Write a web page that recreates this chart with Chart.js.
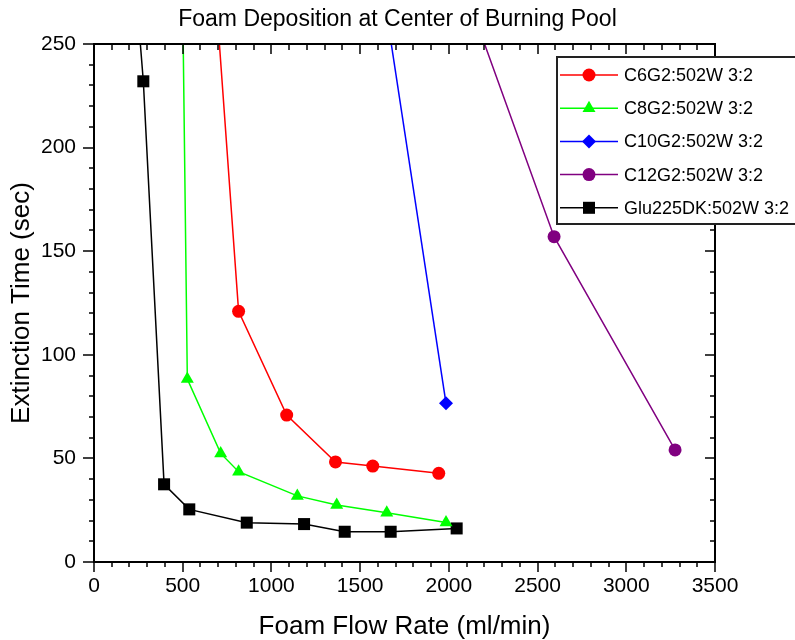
<!DOCTYPE html>
<html>
<head>
<meta charset="utf-8">
<script src="https://cdn.jsdelivr.net/npm/chart.js@4/dist/chart.umd.min.js"></script>
<style>
  html, body { margin: 0; padding: 0; background: #fff; }
  #wrap { width: 795px; height: 640px; }
</style>
</head>
<body>
<div id="wrap"><canvas id="chart" width="795" height="640"></canvas></div>
<script>
const FONT = "'Liberation Sans', Arial, sans-serif";

// data (first point of each curve sits above the 250 s clip)
const c6Flow  = [690, 815, 1086, 1361, 1571, 1943];
const c6Time  = [270, 121, 70.9, 48.3, 46.3, 42.8];
const c8Flow  = [500, 526, 714, 815, 1146, 1368, 1650, 1984];
const c8Time  = [270, 88.3, 52.4, 43.6, 31.9, 27.5, 23.8, 19.1];
const c10Flow = [1640, 1984];
const c10Time = [270, 76.6];
const c12Flow = [2117, 2593, 3275];
const c12Time = [270, 157.0, 54.1];
const gluFlow = [250, 278, 395, 537, 861, 1184, 1413, 1672, 2044];
const gluTime = [262, 232, 37.5, 25.4, 19.0, 18.3, 14.6, 14.6, 16.2];

const seriesLabels = ['C6G2:502W 3:2', 'C8G2:502W 3:2', 'C10G2:502W 3:2', 'C12G2:502W 3:2', 'Glu225DK:502W 3:2'];
const xTicks = [0, 500, 1000, 1500, 2000, 2500, 3000, 3500];
const yTicks = [0, 50, 100, 150, 200, 250];
const X_MINOR = 100, Y_MINOR = 10;

const STYLES = [
  { color: '#ff0000', point: 'circle',   r: 6.5 },
  { color: '#00ff00', point: 'triangle', r: 7.5 },
  { color: '#0000ff', point: 'rectRot',  r: 7   },
  { color: '#800080', point: 'circle',   r: 6.5 },
  { color: '#000000', point: 'rect',     r: 8.5 },
];

const pairs = [[c6Flow, c6Time], [c8Flow, c8Time], [c10Flow, c10Time], [c12Flow, c12Time], [gluFlow, gluTime]];
const yMax = yTicks[yTicks.length - 1];

const datasets = pairs.map(([fx, ty], i) => ({
  label: seriesLabels[i],
  data: fx.map((f, k) => ({ x: f, y: ty[k] })),
  borderColor: STYLES[i].color,
  backgroundColor: STYLES[i].color,
  borderWidth: 1.5,
  pointStyle: STYLES[i].point,
  pointRadius: c => (c.raw && c.raw.y > yMax ? 0 : STYLES[i].r),
  pointBorderWidth: 0,
  tension: 0,
  clip: 0,
}));

function line(ctx, x1, y1, x2, y2) {
  ctx.beginPath(); ctx.moveTo(x1, y1); ctx.lineTo(x2, y2); ctx.stroke();
}

// Origin style frame: outer ticks left/bottom, inner ticks top/right, minor ticks
const framePlugin = {
  id: 'frame',
  afterDraw(chart) {
    const { ctx, chartArea: a, scales: { x, y } } = chart;
    ctx.save();
    ctx.strokeStyle = '#000';
    ctx.lineWidth = 1.5;
    for (let v = x.min; v <= x.max; v += X_MINOR) {
      const px = Math.round(x.getPixelForValue(v));
      const major = xTicks.includes(v);
      line(ctx, px, a.bottom, px, a.bottom + (major ? 10 : 5));
      line(ctx, px, a.top, px, a.top + (major ? 10 : 6));
    }
    for (let v = y.min; v <= y.max; v += Y_MINOR) {
      const py = Math.round(y.getPixelForValue(v));
      const major = yTicks.includes(v);
      line(ctx, a.left, py, a.left - (major ? 11 : 5), py);
      line(ctx, a.right, py, a.right - (major ? 10 : 5), py);
    }
    ctx.lineWidth = 2;
    ctx.strokeRect(a.left, a.top, a.right - a.left, a.bottom - a.top);
    ctx.restore();
  }
};

// legend box overlapping the top-right corner, as in the original
const legendPlugin = {
  id: 'boxLegend',
  afterDraw(chart) {
    const ctx = chart.ctx;
    const bx = 557, by = 57, bh = 167, rowH = 33.2, row0 = 75;
    ctx.save();
    ctx.fillStyle = '#fff';
    ctx.fillRect(bx, by, 260, bh);
    ctx.strokeStyle = '#222';
    ctx.lineWidth = 2;
    ctx.strokeRect(bx, by, 260, bh);
    chart.data.datasets.forEach((ds, i) => {
      const yy = row0 + i * rowH;
      ctx.strokeStyle = ds.borderColor;
      ctx.fillStyle = ds.backgroundColor;
      ctx.lineWidth = 1.5;
      line(ctx, 560, yy, 618, yy);
      Chart.helpers.drawPoint(ctx, { pointStyle: ds.pointStyle, radius: STYLES[i].r, rotation: 0, borderWidth: 0 }, 589, yy);
      ctx.fillStyle = '#000';
      ctx.font = '18px ' + FONT;
      ctx.textBaseline = 'middle';
      ctx.textAlign = 'left';
      ctx.fillText(ds.label, 624, yy + 1);
    });
    ctx.restore();
  }
};

new Chart(document.getElementById('chart'), {
  type: 'line',
  data: { datasets },
  options: {
    responsive: false,
    animation: false,
    layout: { padding: 0 },
    plugins: {
      legend: { display: false },
      tooltip: { enabled: false },
      title: {
        display: true,
        text: 'Foam Deposition at Center of Burning Pool',
        color: '#000',
        font: { family: FONT, size: 23, weight: 'normal', lineHeight: 1.2 },
        padding: { top: 6, bottom: 10.4 },
      },
    },
    scales: {
      x: {
        type: 'linear', position: 'bottom', min: 0, max: 3500,
        afterBuildTicks: s => { s.ticks = xTicks.map(v => ({ value: v })); },
        ticks: { color: '#000', font: { family: FONT, size: 21 }, padding: 12, maxRotation: 0, autoSkip: false, callback: v => String(v) },
        grid: { display: false, drawTicks: false },
        border: { display: false },
        title: {
          display: true, text: 'Foam Flow Rate (ml/min)', color: '#000',
          font: { family: FONT, size: 26, lineHeight: 1 }, padding: { top: 0, bottom: 0 },
        },
        afterFit: s => { s.height = 78; },
      },
      y: {
        type: 'linear', position: 'left', min: 0, max: 250,
        afterBuildTicks: s => { s.ticks = yTicks.map(v => ({ value: v })); },
        ticks: { color: '#000', font: { family: FONT, size: 21 }, padding: 18, callback: v => String(v) },
        grid: { display: false, drawTicks: false },
        border: { display: false },
        title: {
          display: true, text: 'Extinction Time (sec)', color: '#000',
          font: { family: FONT, size: 26, lineHeight: 1 }, padding: { top: 9, bottom: 0 },
        },
        afterFit: s => { s.width = 94; },
      },
      y2: {
        type: 'linear', position: 'right', min: 0, max: 250,
        ticks: { display: false },
        grid: { display: false, drawTicks: false },
        border: { display: false },
        afterFit: s => { s.width = 80; },
      },
    },
  },
  plugins: [framePlugin, legendPlugin],
});
</script>
</body>
</html>
